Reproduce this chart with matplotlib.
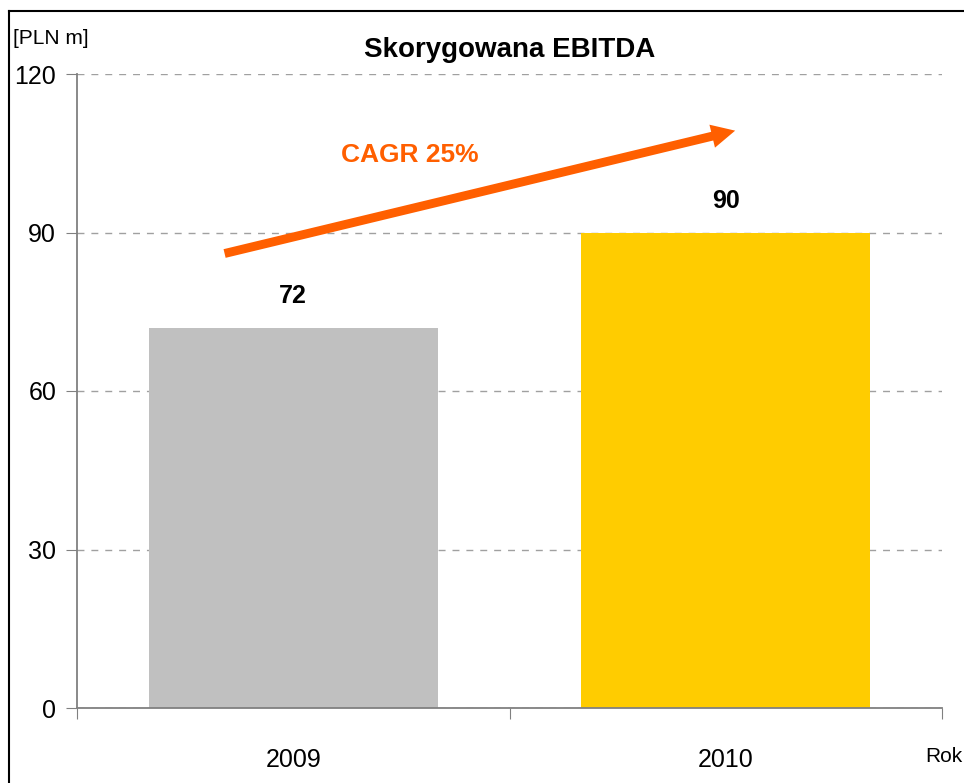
import matplotlib.pyplot as plt
from matplotlib.patches import FancyArrowPatch

years = ["2009", "2010"]
ebitda = [72, 90]
bar_colors = ["#C0C0C0", "#FFCC00"]
y_ticks = [0, 30, 60, 90, 120]

plt.rcParams["font.family"] = ["Liberation Sans", "DejaVu Sans"]

fig = plt.figure(figsize=(9.64, 7.83), dpi=100)
ax = fig.add_axes([77 / 964, 1 - 708 / 783, 865 / 964, 634 / 783])

x = list(range(len(years)))
ax.bar(x, ebitda, width=0.668, color=bar_colors, zorder=2)
for xi, v in zip(x, ebitda):
    ax.text(xi, v + 6, str(v), ha="center", va="center", fontsize=18, fontweight="bold")

ax.set_xlim(-0.5, 1.5)
ax.set_ylim(0, 120)
ax.set_yticks(y_ticks)
ax.set_yticklabels([str(t) for t in y_ticks], fontsize=18)
ax.yaxis.grid(True, linestyle=(0, (5, 5)), color="#A0A0A0", linewidth=1, zorder=0)

# category separators as ticks, labels as minor ticks
ax.set_xticks([-0.5, 0.5, 1.5])
ax.set_xticklabels([])
ax.set_xticks(x, minor=True)
ax.set_xticklabels(years, minor=True, fontsize=18)
ax.tick_params(axis="x", which="minor", length=0, pad=29)
ax.tick_params(axis="x", which="major", length=8, color="#808080", direction="out")
ax.tick_params(axis="y", length=8, color="#808080", direction="out", pad=7)

for s in ["top", "right"]:
    ax.spines[s].set_visible(False)
for s in ["left", "bottom"]:
    ax.spines[s].set_color("#808080")
    ax.spines[s].set_linewidth(1.3)

ax.set_title("Skorygowana EBITDA", fontsize=20, fontweight="bold", pad=12)

arrow = FancyArrowPatch((-0.165, 85.9), (1.028, 109.4),
                        arrowstyle="simple,head_length=0.85,head_width=0.85,tail_width=0.32",
                        mutation_scale=20, color="#FF5F00", linewidth=0, zorder=5, clip_on=False)
ax.add_patch(arrow)
ax.text(0.27, 104.7, "CAGR 25%", color="#FF5F00", fontsize=19, fontweight="bold",
        ha="center", va="center")

fig.text(13 / 964, 1 - 38 / 783, "[PLN m]", fontsize=15, ha="left", va="center")
fig.text(944 / 964, 1 - 757 / 783, "Rok", fontsize=15, ha="center", va="center")

# border lines at top and left
fig.add_artist(plt.Line2D([9 / 964, 1.0], [1 - 11 / 783] * 2, color="black", linewidth=1.5))
fig.add_artist(plt.Line2D([9 / 964] * 2, [0, 1 - 11 / 783], color="black", linewidth=1.5))

fig.savefig("out.png", dpi=100)
